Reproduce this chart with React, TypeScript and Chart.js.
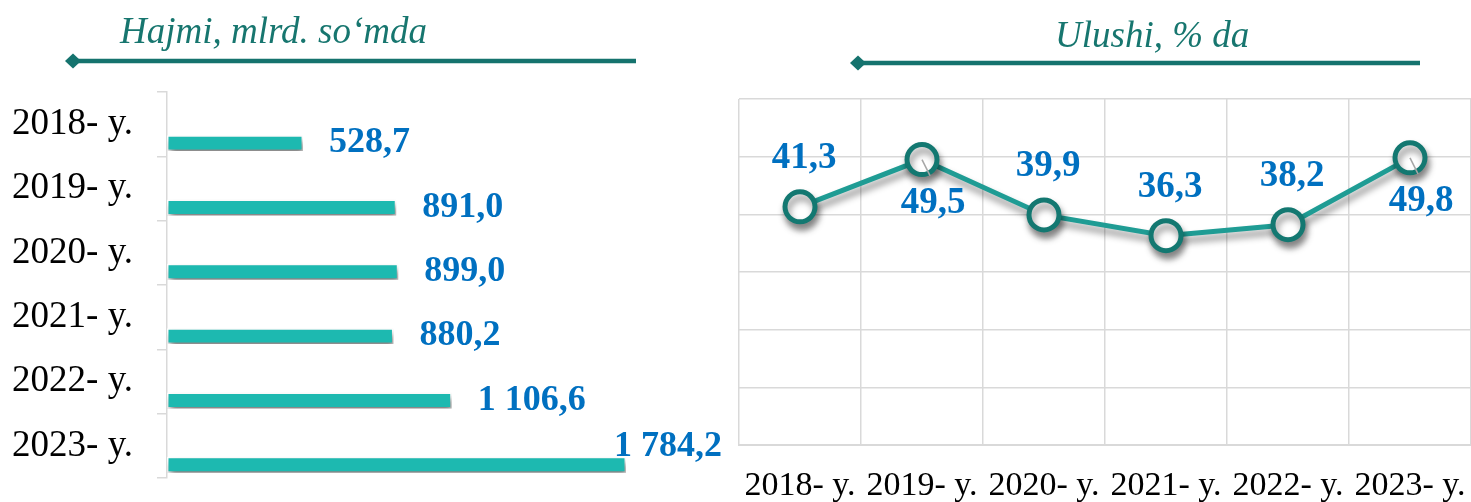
import React, { useEffect, useRef } from "react";
import { Chart, registerables } from "chart.js";

Chart.register(...registerables);

// ---------- data ----------
const years = ["2018- y.", "2019- y.", "2020- y.", "2021- y.", "2022- y.", "2023- y."];
const volume = [528.7, 891.0, 899.0, 880.2, 1106.6, 1784.2];
const emptySlot = [null, null, null, null, null, null];
const share = [41.3, 49.5, 39.9, 36.3, 38.2, 49.8];
const shareLabelSide = ["above", "below", "above", "above", "above", "below"];
const leftTitle = "Hajmi, mlrd. so‘mda";
const rightTitle = "Ulushi, % da";

// ---------- styles ----------
const SERIF = "'Liberation Serif', 'Times New Roman', serif";
const LABEL_BLUE = "#0070C0";
const TITLE_TEAL = "#17766F";
const RULE_TEAL = "#15736E";
const GRID = "#d9d9d9";

const fmt = (v: number) => {
  const [i, d] = v.toFixed(1).split(".");
  return i.replace(/\B(?=(\d{3})+(?!\d))/g, " ") + "," + d;
};

function drawHeader(
  ctx: CanvasRenderingContext2D,
  text: string,
  textX: number,
  baseline: number,
  x1: number,
  x2: number,
  y: number
) {
  ctx.save();
  ctx.font = `italic 37px ${SERIF}`;
  ctx.fillStyle = TITLE_TEAL;
  ctx.textAlign = "left";
  ctx.textBaseline = "alphabetic";
  ctx.fillText(text, textX, baseline);
  ctx.strokeStyle = RULE_TEAL;
  ctx.lineWidth = 4.5;
  ctx.beginPath();
  ctx.moveTo(x1, y);
  ctx.lineTo(x2, y);
  ctx.stroke();
  ctx.fillStyle = RULE_TEAL;
  ctx.beginPath();
  ctx.moveTo(x1 - 8, y);
  ctx.lineTo(x1, y - 7.5);
  ctx.lineTo(x1 + 8, y);
  ctx.lineTo(x1, y + 7.5);
  ctx.closePath();
  ctx.fill();
  ctx.restore();
}

const leftPlugin = {
  id: "leftDecor",
  beforeDatasetsDraw(chart: any) {
    const c = chart.ctx;
    c.save();
    c.shadowColor = "rgba(0,0,0,0.5)";
    c.shadowBlur = 6;
    c.shadowOffsetX = 2;
    c.shadowOffsetY = 5;
  },
  afterDatasetsDraw(chart: any) {
    const c = chart.ctx as CanvasRenderingContext2D;
    c.restore();
    const meta = chart.getDatasetMeta(1);
    c.save();
    c.font = `bold 36px ${SERIF}`;
    c.fillStyle = LABEL_BLUE;
    c.textAlign = "left";
    c.textBaseline = "middle";
    const limit = chart.width - 13;
    meta.data.forEach((el: any, i: number) => {
      const t = fmt(volume[i]);
      const w = c.measureText(t).width;
      let x = el.x + 26;
      let y = el.y;
      if (x + w > limit) {
        x = limit - w;
        y -= 18;
      }
      c.fillText(t, x, y);
    });
    c.restore();
  },
  afterDraw(chart: any) {
    drawHeader(chart.ctx, leftTitle, 120, 43, 73, 636, 61);
  },
};

const rightPlugin = {
  id: "rightDecor",
  beforeDatasetsDraw(chart: any) {
    const c = chart.ctx;
    c.save();
    c.shadowColor = "rgba(0,0,0,0.45)";
    c.shadowBlur = 7;
    c.shadowOffsetX = 2;
    c.shadowOffsetY = 6;
  },
  afterDatasetsDraw(chart: any) {
    const c = chart.ctx as CanvasRenderingContext2D;
    c.restore();
    const meta = chart.getDatasetMeta(0);
    c.save();
    c.font = `bold 37px ${SERIF}`;
    c.fillStyle = LABEL_BLUE;
    c.textAlign = "center";
    c.textBaseline = "middle";
    meta.data.forEach((el: any, i: number) => {
      const t = fmt(share[i]);
      if (shareLabelSide[i] === "below") {
        c.save();
        c.strokeStyle = "#a6a6a6";
        c.lineWidth = 1.5;
        c.beginPath();
        c.moveTo(el.x, el.y);
        c.lineTo(el.x + 8, el.y + 16);
        c.stroke();
        c.restore();
        c.fillText(t, el.x + 11, el.y + 44);
      } else {
        c.fillText(t, el.x + 4, el.y - 48);
      }
    });
    c.restore();
  },
  afterDraw(chart: any) {
    drawHeader(chart.ctx, rightTitle, 325, 47, 128, 690, 63);
  },
};

const zeroPad = (s: any) => {
  s.paddingLeft = 0;
  s.paddingRight = 0;
  s.paddingTop = 0;
  s.paddingBottom = 0;
};

export default function App() {
  const leftRef = useRef<HTMLCanvasElement>(null);
  const rightRef = useRef<HTMLCanvasElement>(null);

  useEffect(() => {
    const left = new Chart(leftRef.current!, {
      type: "bar",
      data: {
        labels: years,
        datasets: [
          { data: emptySlot as any, backgroundColor: "transparent" },
          {
            data: volume,
            backgroundColor: "#1DB9B0",
            borderColor: "rgba(255,255,255,0.95)",
            borderWidth: 1.5,
            borderSkipped: false,
          },
        ],
      },
      options: {
        indexAxis: "y",
        responsive: false,
        animation: false,
        devicePixelRatio: 1,
        categoryPercentage: 1.18,
        barPercentage: 0.42,
        layout: { autoPadding: false, padding: { top: 92, bottom: 24, left: 0, right: 53.5 } },
        plugins: { legend: { display: false }, tooltip: { enabled: false } },
        scales: {
          x: { display: false, min: 0, max: 2000 },
          y: {
            afterFit: (s: any) => {
              s.width = 167;
              zeroPad(s);
            },
            grid: {
              offset: true,
              drawOnChartArea: false,
              drawTicks: true,
              tickLength: 10,
              color: GRID,
              lineWidth: 1.5,
            },
            border: { display: true, color: GRID, width: 1.5 },
            ticks: {
              font: { family: SERIF, size: 37 },
              color: "#000",
              padding: 24,
              autoSkip: false,
            },
          },
        },
      } as any,
      plugins: [leftPlugin],
    });

    const right = new Chart(rightRef.current!, {
      type: "line",
      data: {
        labels: years,
        datasets: [
          {
            data: share,
            borderColor: "#1F9C94",
            borderWidth: 5,
            pointRadius: 15,
            pointBorderWidth: 5,
            pointBorderColor: "#137871",
            pointBackgroundColor: "#ffffff",
            tension: 0,
            clip: false,
          } as any,
        ],
      },
      options: {
        responsive: false,
        animation: false,
        devicePixelRatio: 1,
        layout: { autoPadding: false, padding: { top: 99, bottom: 0, left: 9, right: 0 } },
        plugins: { legend: { display: false }, tooltip: { enabled: false } },
        scales: {
          x: {
            afterFit: (s: any) => {
              s.height = 57;
              zeroPad(s);
            },
            offset: true,
            grid: { offset: true, color: GRID, lineWidth: 1.5, drawTicks: false },
            border: { display: true, color: GRID, width: 2 },
            ticks: {
              font: { family: SERIF, size: 34 },
              color: "#000",
              padding: 21,
              autoSkip: false,
              maxRotation: 0,
            },
          },
          y: {
            min: 0,
            max: 60,
            afterFit: (s: any) => {
              s.width = 0;
              zeroPad(s);
            },
            grid: { color: GRID, lineWidth: 1.5, drawTicks: false },
            border: { display: false },
            ticks: { display: false, stepSize: 10 },
          },
        },
      } as any,
      plugins: [rightPlugin],
    });

    return () => {
      left.destroy();
      right.destroy();
    };
  }, []);

  return (
    <div style={{ position: "absolute", left: 0, top: 0, width: 1471, height: 502, background: "#fff", overflow: "hidden" }}>
      <canvas ref={leftRef} width={735} height={502} style={{ position: "absolute", left: 0, top: 0 }} />
      <canvas ref={rightRef} width={741} height={502} style={{ position: "absolute", left: 730, top: 0 }} />
    </div>
  );
}
